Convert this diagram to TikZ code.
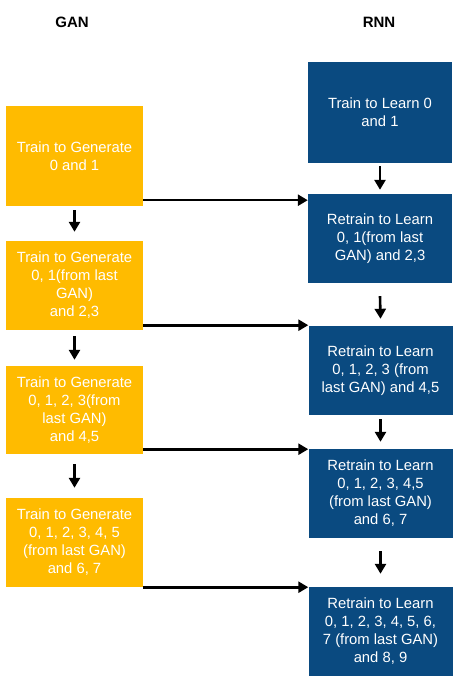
\documentclass[tikz,border=0pt]{standalone}
\usepackage{fontspec}
\setmainfont{Liberation Sans}
\usetikzlibrary{arrows.meta}
\definecolor{ganyellow}{HTML}{FFBB00}
\definecolor{rnnblue}{HTML}{0A4A80}
\tikzset{
  box/.style={rectangle, inner sep=0pt, text=white, align=center,
    font=\fontsize{14.8pt}{18pt}\selectfont},
  ganbox/.style={box, fill=ganyellow, minimum width=137pt},
  rnnbox/.style={box, fill=rnnblue, minimum width=144pt},
  title/.style={font=\bfseries\fontsize{15pt}{18pt}\selectfont},
  arr/.style={line width=2.6pt, -{Triangle[length=10pt,width=11pt]}}
}
\begin{document}
\begin{tikzpicture}[x=1pt,y=-1pt]
\useasboundingbox (0,0) rectangle (459,684);
\node[title] (gan) at (72,22) {GAN};
\node[title] (rnn) at (379,22) {RNN};
% GAN boxes
\node[ganbox, minimum height=100pt] (y1) at (74.5,156) {Train to Generate\\0 and 1};
\node[ganbox, minimum height=89pt] (y2) at (74.5,285.5) {Train to Generate\\0, 1(from last\\GAN)\\and 2,3};
\node[ganbox, minimum height=88pt] (y3) at (74.5,410) {Train to Generate\\0, 1, 2, 3(from\\last GAN)\\and 4,5};
\node[ganbox, minimum height=89pt] (y4) at (74.5,542.5) {Train to Generate\\0, 1, 2, 3, 4, 5\\(from last GAN)\\and 6, 7};
% RNN boxes
\node[rnnbox, minimum height=101pt] (b1) at (380,112.5) {Train to Learn 0\\and 1};
\node[rnnbox, minimum height=89pt] (b2) at (380,238.5) {Retrain to Learn\\0, 1(from last\\GAN) and 2,3};
\node[rnnbox, minimum height=89pt] (b3) at (380.5,370.5) {Retrain to Learn\\0, 1, 2, 3 (from\\last GAN) and 4,5};
\node[rnnbox, minimum height=89pt] (b4) at (380.5,493.5) {Retrain to Learn\\0, 1, 2, 3, 4,5\\(from last GAN)\\and 6, 7};
\node[rnnbox, minimum height=89pt] (b5) at (380.5,631.5) {Retrain to Learn\\0, 1, 2, 3, 4, 5, 6,\\7 (from last GAN)\\and 8, 9};
% vertical GAN arrows
\draw[arr] ([yshift=-4pt]y1.south) -- ([yshift=9pt]y2.north);
\draw[arr] ([yshift=-6pt]y2.south) -- ([yshift=6pt]y3.north);
\draw[arr] ([yshift=-10pt]y3.south) -- ([yshift=10pt]y4.north);
% vertical RNN arrows
\draw[arr] ([yshift=-3pt]b1.south) -- ([yshift=4pt]b2.north);
\draw[arr] ([yshift=-13pt]b2.south) -- ([yshift=7pt]b3.north);
\draw[arr] ([yshift=-4pt]b3.south) -- ([yshift=7pt]b4.north);
\draw[arr] ([yshift=-13pt]b4.south) -- ([yshift=13pt]b5.north);
% horizontal arrows
\draw[arr] ([yshift=6pt]y1.south east) -- ([yshift=6pt]y1.south east -| b2.west);
\draw[arr] ([yshift=5pt]y2.south east) -- ([yshift=5pt]y2.south east -| b3.west);
\draw[arr] ([yshift=5pt]y3.south east) -- ([yshift=5pt]y3.south east -| b4.west);
\draw[arr] (y4.south east) -- (y4.south east -| b5.west);
\end{tikzpicture}
\end{document}
